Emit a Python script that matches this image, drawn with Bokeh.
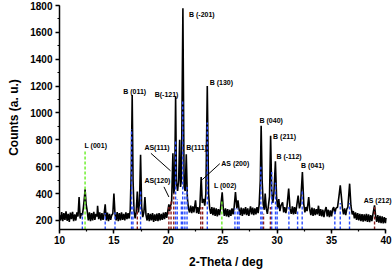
from bokeh.plotting import figure
from bokeh.models import ColumnDataSource, Range1d, SingleIntervalTicker
from bokeh.core.properties import value
from bokeh.embed import file_html
from bokeh.resources import INLINE

# ---- measured XRD pattern (2-theta / deg, counts) ----
two_theta = [
    10.0, 10.1, 10.2, 10.3, 10.4, 10.5, 10.6, 10.7, 10.8, 10.9, 11.0, 11.1, 11.2, 11.3, 11.4, 11.5, 11.6,
    11.7, 11.8, 11.9, 12.0, 12.1, 12.2, 12.3, 12.35, 12.45, 12.55, 12.65,
    12.75, 12.85, 12.95, 13.05, 13.15, 13.25, 13.35, 13.45, 13.5, 13.6, 13.7, 13.8, 13.9, 14.0, 14.1, 14.2,
    14.3, 14.4, 14.5, 14.6, 14.7, 14.8, 14.9, 15.0, 15.1, 15.2, 15.3, 15.4, 15.5, 15.6, 15.7, 15.8, 15.9,
    16.0, 16.1, 16.2, 16.3, 16.4, 16.5, 16.6, 16.68, 16.76, 16.85, 16.95, 17.05, 17.15, 17.25, 17.35, 17.45,
    17.55, 17.65, 17.75, 17.85, 17.95, 18.05, 18.15, 18.25, 18.35, 18.45, 18.55, 18.65, 18.75, 18.85, 18.95,
    19.05, 19.15, 19.25, 19.35, 19.45, 19.55, 19.65, 19.75, 19.85, 19.95, 20.05, 20.12, 20.2, 20.3, 20.42,
    20.5, 20.58, 20.67, 20.75, 20.85, 20.95, 21.04, 21.12, 21.2, 21.34, 21.45, 21.55, 21.65, 21.75, 21.85,
    21.95, 22.05, 22.15, 22.25, 22.35, 22.5, 22.6, 22.7, 22.8, 22.9, 23.02, 23.12, 23.25, 23.35, 23.45, 23.58,
    23.7, 23.8, 23.9, 24.0, 24.1, 24.2, 24.3, 24.4, 24.5, 24.6, 24.7, 24.8, 24.95, 25.05, 25.15, 25.25, 25.35,
    25.45, 25.55, 25.65, 25.75, 25.85, 25.95, 26.05, 26.17, 26.3, 26.4, 26.5, 26.6, 26.7, 26.8, 26.9, 27.0,
    27.1, 27.2, 27.3, 27.4, 27.55, 27.65, 27.75, 27.85, 27.95, 28.05, 28.15, 28.25, 28.35, 28.45, 28.53,
    28.62, 28.72, 28.82, 28.9, 29.0, 29.1, 29.2, 29.3, 29.4, 29.5, 29.6, 29.7, 29.84, 29.95, 30.05, 30.15,
    30.25, 30.35, 30.5, 30.6, 30.7, 30.8, 30.9, 31.06, 31.18, 31.3, 31.4, 31.5, 31.6, 31.7, 31.8, 31.93,
    32.05, 32.15, 32.32, 32.45, 32.55, 32.65, 32.75, 32.9, 33.0, 33.1, 33.2, 33.3, 33.4, 33.5, 33.6, 33.7,
    33.8, 33.9, 34.0, 34.1, 34.2, 34.3, 34.4, 34.5, 34.6, 34.7, 34.8, 34.9, 35.0, 35.1, 35.2, 35.3, 35.4,
    35.55, 35.68, 35.8, 35.9, 36.0, 36.1, 36.2, 36.3, 36.4, 36.5, 36.66, 36.78, 36.9, 37.0, 37.1, 37.2, 37.3,
    37.4, 37.5, 37.6, 37.7, 37.8, 37.9, 38.0, 38.1, 38.2, 38.3, 38.4, 38.5, 38.6, 38.7, 38.8, 38.95, 39.05,
    39.15, 39.25, 39.35, 39.45, 39.55, 39.65, 39.75, 39.85, 39.95, 40.0,
]
counts = [
    240, 200, 262, 195, 255, 205, 268, 198, 250, 190, 258, 210, 265, 195, 245, 200, 260,
    230, 374, 215, 255, 240, 300, 380, 433, 320, 270, 200,
    260, 195, 255, 200, 265, 205, 250, 230, 310, 210, 260, 200, 255, 205, 250, 320,
    200, 258, 195, 250, 205, 240, 250, 400, 250, 200, 262, 195, 255, 200, 260, 205, 250,
    200, 260, 210, 255, 215, 280, 600, 1133, 500, 270, 215, 265, 416, 260, 330, 690,
    300, 225, 260, 374, 240, 200, 255, 195, 250, 200, 255, 190, 245, 198, 252,
    195, 255, 200, 250, 205, 258, 210, 262, 220, 270, 320, 270, 310, 330, 700,
    400, 450, 1125, 480, 420, 500, 800, 450, 500, 1780, 450, 420, 692, 370, 290,
    260, 310, 255, 305, 260, 350, 255, 300, 250, 310, 523, 330, 360, 310, 400, 1200,
    400, 290, 250, 300, 240, 295, 235, 290, 230, 285, 240, 290, 410, 290, 235, 290, 230,
    285, 225, 280, 235, 290, 245, 300, 411, 290, 350, 285, 240, 295, 235, 290, 245,
    300, 240, 290, 235, 305, 245, 295, 240, 290, 245, 300, 255, 320, 500, 905,
    500, 320, 280, 400, 290, 250, 310, 380, 830, 420, 330, 400, 641, 370, 290, 360,
    270, 310, 335, 260, 300, 255, 300, 437, 290, 250, 305, 245, 300, 250, 310, 386,
    290, 320, 560, 320, 260, 300, 270, 374, 280, 240, 295, 235, 290, 240, 285, 245,
    310, 235, 285, 230, 280, 225, 275, 300, 230, 280, 225, 275, 230, 285, 300, 250, 290,
    300, 380, 461, 380, 290, 245, 290, 240, 285, 300, 474, 310, 245, 270, 215, 260, 205,
    255, 200, 250, 195, 248, 192, 245, 195, 250, 190, 245, 188, 240, 195, 245, 312, 235,
    190, 240, 185, 235, 180, 230, 178, 225, 180, 220,
]

# ---- reference stick patterns (position, relative height) ----
b_pos = [12.1, 14.2, 15.1, 16.62, 16.75, 17.45, 20.67, 20.82, 21.2, 21.32, 21.52, 21.72,
         23.58, 26.12, 26.35, 26.5, 28.5, 28.62, 29.5, 29.85, 30.0, 31.08, 31.88, 32.3,
         35.3, 35.8, 36.65]
b_top = [250, 255, 260, 880, 320, 430, 800, 360, 350, 1100, 400, 450,
         930, 290, 290, 280, 600, 300, 560, 480, 300, 300, 280, 420,
         280, 330, 330]
as_pos = [17.15, 20.05, 20.25, 20.5, 22.98, 23.15, 28.75, 29.38, 38.95]
as_top = [290, 300, 350, 400, 300, 300, 250, 300, 300]
l_pos = [12.35, 24.92]
l_top = [720, 350]

# ---- peak annotations ----
label_text = ["L (001)", "B (011)", "B(-121)", "B (-201)", "B (130)", "AS(111)", "AS(120)",
              "B(111)", "AS (200)", "L (002)", "B (040)", "B (211)", "B (-112)", "B (041)", "AS (212)"]
label_x = [12.3, 15.85, 18.75, 21.9, 23.8, 17.8, 17.8, 21.65, 24.86, 24.19, 28.38, 29.63, 29.93,
           32.2, 37.95]
label_y = [760, 1160, 1140, 1730, 1225, 742, 500, 742, 627, 461, 941, 822, 677, 610, 349]

pointer_x0 = [18.4, 19.6, 24.73]
pointer_y0 = [700, 450, 623]
pointer_x1 = [20.2, 20.05, 23.12]
pointer_y1 = [570, 375, 504]

x_min, x_max = 10, 40
y_floor = 133

p = figure(width=392, height=273, output_backend="svg", toolbar_location=None,
           x_range=Range1d(x_min, x_max + 0.6), y_range=Range1d(y_floor, 1800),
           min_border_left=59, min_border_right=0, min_border_top=5, min_border_bottom=44)
p.outline_line_color = None
p.xgrid.visible = False
p.ygrid.visible = False

# peak labels (drawn first, in solid black)
src = ColumnDataSource(dict(x=label_x, y=label_y, t=label_text))
p.text(x="x", y="y", text="t", source=src, text_font=value("Liberation Sans"),
       text_font_size="7px", text_font_style="bold", text_baseline="middle",
       text_align="left", text_color="#000000", text_alpha=1.0)

# pattern
p.line(two_theta, counts, line_color="black", line_width=1.6)

# sticks (drawn over the pattern)
p.segment(x0=b_pos, y0=[y_floor] * len(b_pos), x1=b_pos, y1=b_top,
          line_color="#2a4cff", line_width=1.4, line_dash="3 2")
p.segment(x0=as_pos, y0=[y_floor] * len(as_pos), x1=as_pos, y1=as_top,
          line_color="#8b1c1c", line_width=1.4, line_dash="3 2")
p.segment(x0=l_pos, y0=[y_floor] * len(l_pos), x1=l_pos, y1=l_top,
          line_color="#66ee22", line_width=1.4, line_dash="3 2")

# pointers
p.segment(x0=pointer_x0, y0=pointer_y0, x1=pointer_x1, y1=pointer_y1,
          line_color="black", line_width=1.0)

for ax in (p.xaxis[0], p.yaxis[0]):
    ax.axis_line_width = 1.5
    ax.axis_line_color = "black"
    ax.major_tick_line_width = 1.5
    ax.minor_tick_line_width = 1.2
    ax.major_tick_out = 4
    ax.major_tick_in = 0
    ax.minor_tick_out = 2
    ax.minor_tick_in = 0
    ax.major_label_text_font = "Liberation Sans"
    ax.major_label_text_font_style = "bold"
    ax.major_label_text_font_size = "10px"
    ax.major_label_text_color = "black"
    ax.axis_label_text_font = "Liberation Sans"
    ax.axis_label_text_font_style = "bold"
    ax.axis_label_text_font_size = "12px"
    ax.axis_label_text_color = "black"

p.xaxis.bounds = (x_min, x_max)
p.xaxis.ticker = SingleIntervalTicker(interval=5, num_minor_ticks=2)
p.yaxis.ticker = SingleIntervalTicker(interval=200, num_minor_ticks=2)
p.xaxis.axis_label = "2-Theta / deg"
p.yaxis.axis_label = "Counts (a. u.)"
p.xaxis.axis_label_standoff = 8
p.yaxis.axis_label_standoff = 6
p.yaxis.major_label_standoff = 3
p.xaxis.major_label_standoff = 2

open("out.html", "w").write(file_html(p, INLINE))
